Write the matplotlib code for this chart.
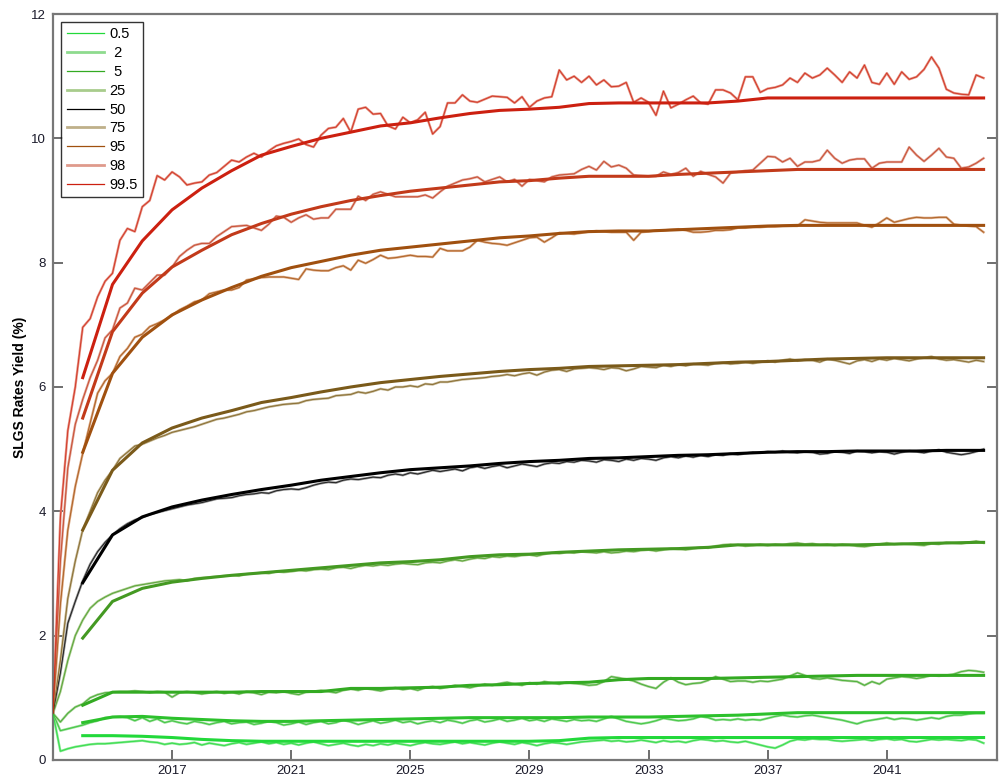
import numpy as np
import matplotlib
matplotlib.use("Agg")
import matplotlib.pyplot as plt
from matplotlib.lines import Line2D

plt.rcParams['font.family'] = ['Liberation Sans', 'DejaVu Sans']

# percentiles shown in the legend
labels = ['0.5', ' 2', ' 5', '25', '50', '75', '95', '98', '99.5']

# quarterly simulated yields, 2013.00 .. 2044.25 (126 points)
q_start = 2013.0
sim_005 = [
    0.75, 0.14, 0.18, 0.21, 0.23, 0.25, 0.26, 0.26,
    0.27, 0.28, 0.29, 0.30, 0.31, 0.29, 0.28, 0.25,
    0.27, 0.25, 0.26, 0.28, 0.24, 0.27, 0.25, 0.23,
    0.26, 0.28, 0.25, 0.27, 0.29, 0.26, 0.28, 0.25,
    0.27, 0.24, 0.27, 0.29, 0.26, 0.23, 0.25, 0.27,
    0.24, 0.22, 0.25, 0.23, 0.26, 0.24, 0.27, 0.25,
    0.23, 0.26, 0.28, 0.26, 0.25, 0.27, 0.29, 0.26,
    0.28, 0.26, 0.24, 0.27, 0.29, 0.27, 0.25, 0.28,
    0.26, 0.23, 0.26, 0.28, 0.27, 0.25, 0.27, 0.29,
    0.30, 0.31, 0.32, 0.30, 0.31, 0.29, 0.30, 0.32,
    0.30, 0.28, 0.31, 0.29, 0.30, 0.28, 0.31, 0.33,
    0.32, 0.30, 0.31, 0.29, 0.28, 0.30, 0.27, 0.24,
    0.21, 0.19, 0.24, 0.30, 0.33, 0.32, 0.34, 0.33,
    0.33, 0.31, 0.30, 0.31, 0.32, 0.33, 0.31, 0.33,
    0.34, 0.32, 0.33, 0.30, 0.29, 0.31, 0.33, 0.32,
    0.33, 0.32, 0.31, 0.33, 0.32, 0.27]
sim_2 = [
    0.75, 0.47, 0.50, 0.53, 0.56, 0.60, 0.63, 0.68,
    0.69, 0.70, 0.68, 0.63, 0.68, 0.62, 0.66, 0.60,
    0.63, 0.60, 0.58, 0.62, 0.60, 0.57, 0.60, 0.62,
    0.58, 0.60, 0.61, 0.57, 0.59, 0.62, 0.60, 0.56,
    0.58, 0.61, 0.57, 0.60, 0.62, 0.58, 0.60, 0.64,
    0.61, 0.57, 0.60, 0.63, 0.59, 0.61, 0.64, 0.60,
    0.62, 0.58, 0.61, 0.63, 0.60, 0.64, 0.62, 0.59,
    0.63, 0.65, 0.61, 0.63, 0.66, 0.62, 0.64, 0.67,
    0.63, 0.65, 0.62, 0.66, 0.64, 0.62, 0.65, 0.63,
    0.64, 0.62, 0.66, 0.70, 0.66, 0.62, 0.60, 0.58,
    0.60, 0.63, 0.67, 0.65, 0.63, 0.64, 0.66, 0.70,
    0.68, 0.64, 0.65, 0.64, 0.66, 0.64, 0.65, 0.64,
    0.67, 0.70, 0.72, 0.70, 0.69, 0.71, 0.72, 0.70,
    0.68, 0.66, 0.64, 0.61, 0.58, 0.62, 0.64, 0.66,
    0.68, 0.65, 0.67, 0.66, 0.64, 0.66, 0.68, 0.66,
    0.70, 0.72, 0.72, 0.74, 0.75, 0.75]
sim_5 = [
    0.75, 0.61, 0.75, 0.85, 0.90, 1.00, 1.05, 1.08,
    1.09, 1.10, 1.10, 1.11, 1.10, 1.08, 1.10, 1.09,
    1.01, 1.08, 1.10, 1.08, 1.06, 1.08, 1.10, 1.07,
    1.09, 1.06, 1.10, 1.08, 1.05, 1.09, 1.08, 1.10,
    1.07, 1.05, 1.09, 1.10, 1.12, 1.10, 1.08, 1.12,
    1.14, 1.12, 1.15, 1.13, 1.11, 1.14, 1.16, 1.13,
    1.15, 1.12, 1.16, 1.18, 1.15, 1.17, 1.20, 1.18,
    1.16, 1.19, 1.22, 1.20, 1.23, 1.25, 1.22, 1.20,
    1.24, 1.22, 1.26, 1.24, 1.22, 1.25, 1.23, 1.22,
    1.20, 1.21, 1.26, 1.34, 1.32, 1.30, 1.27, 1.22,
    1.18, 1.15, 1.25, 1.32, 1.25, 1.21, 1.23, 1.24,
    1.28, 1.34, 1.30, 1.26, 1.27, 1.27, 1.25, 1.27,
    1.26, 1.28, 1.30, 1.35, 1.40, 1.36, 1.31, 1.30,
    1.32, 1.30, 1.28, 1.27, 1.26, 1.20, 1.26, 1.22,
    1.30, 1.32, 1.34, 1.33, 1.31, 1.33, 1.36, 1.35,
    1.36, 1.38, 1.42, 1.44, 1.43, 1.41]
sim_25 = [
    0.75, 1.10, 1.60, 2.00, 2.25, 2.44, 2.55, 2.62,
    2.68, 2.72, 2.76, 2.80, 2.82, 2.84, 2.86, 2.88,
    2.89, 2.90, 2.88, 2.92, 2.93, 2.94, 2.95, 2.96,
    2.97, 2.96, 2.99, 3.00, 3.01, 3.00, 3.03, 3.02,
    3.03, 3.05, 3.04, 3.06, 3.07, 3.06, 3.09, 3.10,
    3.08, 3.11, 3.13, 3.12, 3.14, 3.13, 3.15, 3.16,
    3.15, 3.14, 3.17, 3.18, 3.17, 3.20, 3.22, 3.20,
    3.23, 3.25, 3.24, 3.27, 3.26, 3.28, 3.27, 3.29,
    3.30, 3.28, 3.31, 3.33, 3.32, 3.34, 3.33, 3.35,
    3.34, 3.33, 3.35, 3.33, 3.34, 3.36, 3.35, 3.37,
    3.38, 3.36, 3.38, 3.40, 3.39, 3.38, 3.40, 3.42,
    3.41, 3.44, 3.46, 3.47, 3.46, 3.44, 3.45, 3.47,
    3.45, 3.47, 3.46, 3.48, 3.49, 3.47, 3.48, 3.46,
    3.47, 3.45, 3.47, 3.46, 3.44, 3.43, 3.45, 3.47,
    3.49, 3.47, 3.48, 3.47, 3.46, 3.45, 3.48, 3.47,
    3.50, 3.49, 3.48, 3.50, 3.52, 3.49]
sim_50 = [
    0.75, 1.40, 2.20, 2.55, 2.88, 3.15, 3.35, 3.50,
    3.62, 3.72, 3.80, 3.86, 3.90, 3.95, 3.98, 4.01,
    4.04, 4.07, 4.10, 4.12, 4.14, 4.17, 4.20, 4.21,
    4.22, 4.25, 4.27, 4.28, 4.30, 4.29, 4.33, 4.35,
    4.36, 4.35, 4.38, 4.42, 4.45, 4.47, 4.46, 4.50,
    4.52, 4.51, 4.53, 4.55, 4.54, 4.58, 4.60, 4.58,
    4.62, 4.60, 4.63, 4.66, 4.64, 4.66, 4.68, 4.65,
    4.70, 4.72, 4.69, 4.72, 4.74, 4.70, 4.73, 4.76,
    4.74, 4.72, 4.76, 4.78, 4.77, 4.80, 4.79, 4.82,
    4.81, 4.79, 4.83, 4.82, 4.80, 4.84, 4.82, 4.85,
    4.84, 4.82, 4.86, 4.88, 4.86, 4.89, 4.87, 4.90,
    4.88, 4.91, 4.90, 4.93, 4.91, 4.93, 4.95, 4.94,
    4.96, 4.95, 4.97, 4.95, 4.94, 4.96, 4.95, 4.92,
    4.93, 4.96, 4.95, 4.93, 4.97, 4.96, 4.94, 4.96,
    4.95, 4.92, 4.95, 4.97, 4.96, 4.94, 4.97, 4.99,
    4.95, 4.93, 4.91, 4.93, 4.96, 5.00]
sim_75 = [
    0.75, 1.60, 2.60, 3.20, 3.70, 4.00, 4.30, 4.50,
    4.66, 4.85, 4.95, 5.05, 5.08, 5.13, 5.18, 5.22,
    5.27, 5.30, 5.33, 5.36, 5.40, 5.44, 5.48, 5.50,
    5.53, 5.56, 5.60, 5.62, 5.65, 5.68, 5.70, 5.72,
    5.73, 5.74, 5.78, 5.80, 5.81, 5.82, 5.86, 5.87,
    5.88, 5.92, 5.90, 5.93, 5.97, 5.95, 6.00, 6.00,
    6.02, 6.00, 6.05, 6.04, 6.08, 6.08, 6.10, 6.12,
    6.13, 6.14, 6.15, 6.17, 6.18, 6.20, 6.18, 6.21,
    6.23, 6.19, 6.24, 6.27, 6.28, 6.25, 6.29, 6.30,
    6.31, 6.30, 6.28, 6.31, 6.30, 6.26, 6.29, 6.33,
    6.32, 6.31, 6.35, 6.33, 6.36, 6.34, 6.37, 6.36,
    6.35, 6.38, 6.39, 6.37, 6.38, 6.40, 6.38, 6.40,
    6.42, 6.40, 6.43, 6.45, 6.42, 6.44, 6.43, 6.40,
    6.45, 6.43, 6.40, 6.37, 6.42, 6.44, 6.41, 6.45,
    6.43, 6.46, 6.44, 6.42, 6.45, 6.47, 6.49, 6.45,
    6.43, 6.44, 6.42, 6.40, 6.43, 6.41]
sim_95 = [
    0.75, 2.50, 3.70, 4.40, 4.93, 5.42, 5.90, 6.10,
    6.22, 6.49, 6.62, 6.80, 6.85, 6.97, 7.02, 7.08,
    7.15, 7.24, 7.30, 7.37, 7.40, 7.50, 7.53, 7.56,
    7.56, 7.60, 7.72, 7.74, 7.76, 7.77, 7.77, 7.77,
    7.75, 7.73, 7.90, 7.88, 7.87, 7.87, 7.92, 7.95,
    7.88, 8.04, 7.99, 8.05, 8.12, 8.07, 8.08, 8.10,
    8.12, 8.10, 8.10, 8.09, 8.23, 8.19, 8.19, 8.19,
    8.25, 8.36, 8.33, 8.31, 8.30, 8.28, 8.32, 8.36,
    8.40, 8.41, 8.33, 8.40, 8.48, 8.47, 8.46, 8.48,
    8.50, 8.51, 8.50, 8.49, 8.49, 8.49, 8.36, 8.49,
    8.50, 8.52, 8.52, 8.53, 8.54, 8.52, 8.49, 8.49,
    8.50, 8.52, 8.52, 8.53, 8.56, 8.56, 8.57, 8.57,
    8.58, 8.58, 8.59, 8.59, 8.59, 8.69, 8.67, 8.65,
    8.64, 8.64, 8.64, 8.64, 8.64, 8.60, 8.57, 8.64,
    8.72, 8.65, 8.68, 8.71, 8.73, 8.72, 8.72, 8.73,
    8.73, 8.62, 8.60, 8.59, 8.58, 8.49]
sim_98 = [
    0.75, 3.20, 4.70, 5.40, 5.80, 6.15, 6.43, 6.79,
    6.92, 7.27, 7.35, 7.59, 7.56, 7.68, 7.80, 7.80,
    7.93, 8.10, 8.20, 8.28, 8.31, 8.31, 8.42, 8.50,
    8.58, 8.59, 8.60, 8.56, 8.52, 8.62, 8.75, 8.73,
    8.65, 8.72, 8.77, 8.70, 8.72, 8.72, 8.86, 8.86,
    8.86, 9.07, 9.00, 9.10, 9.14, 9.10, 9.06, 9.06,
    9.06, 9.06, 9.09, 9.04, 9.14, 9.23, 9.28, 9.33,
    9.35, 9.38, 9.30, 9.34, 9.38, 9.30, 9.34, 9.23,
    9.34, 9.32, 9.30, 9.38, 9.41, 9.42, 9.43, 9.50,
    9.55, 9.49, 9.63, 9.54, 9.57, 9.52, 9.41, 9.40,
    9.39, 9.39, 9.46, 9.42, 9.45, 9.52, 9.39, 9.47,
    9.42, 9.38, 9.28, 9.44, 9.46, 9.48, 9.49, 9.60,
    9.71, 9.70, 9.62, 9.68, 9.55, 9.62, 9.62, 9.65,
    9.81, 9.68, 9.60, 9.65, 9.67, 9.67, 9.52, 9.60,
    9.62, 9.62, 9.62, 9.86, 9.73, 9.63, 9.73, 9.84,
    9.70, 9.68, 9.52, 9.54, 9.60, 9.68]
sim_995 = [
    0.75, 3.90, 5.30, 6.00, 6.96, 7.10, 7.45, 7.70,
    7.83, 8.36, 8.55, 8.50, 8.90, 9.00, 9.40, 9.33,
    9.46, 9.38, 9.25, 9.28, 9.30, 9.41, 9.45, 9.55,
    9.65, 9.62, 9.70, 9.76, 9.70, 9.80, 9.88, 9.92,
    9.95, 9.99, 9.90, 9.86, 10.05, 10.16, 10.18, 10.32,
    10.10, 10.47, 10.50, 10.39, 10.40, 10.20, 10.15, 10.34,
    10.25, 10.30, 10.42, 10.07, 10.19, 10.57, 10.57, 10.70,
    10.60, 10.58, 10.63, 10.68, 10.67, 10.66, 10.57, 10.67,
    10.50, 10.60, 10.65, 10.67, 11.10, 10.94, 11.00, 10.90,
    11.00, 10.86, 10.94, 10.83, 10.84, 10.90, 10.58, 10.65,
    10.58, 10.37, 10.76, 10.49, 10.55, 10.62, 10.68, 10.57,
    10.55, 10.78, 10.78, 10.73, 10.62, 10.99, 10.99, 10.74,
    10.80, 10.82, 10.86, 10.97, 10.90, 11.05, 10.97, 11.02,
    11.13, 11.02, 10.90, 11.07, 10.97, 11.18, 10.90, 10.87,
    11.05, 10.87, 11.07, 10.95, 10.99, 11.11, 11.31, 11.13,
    10.79, 10.73, 10.71, 10.70, 11.02, 10.97]

# yearly target curves, 2014 .. 2044, held to the last quarter
fit_years = list(range(2014, 2045)) + [2044.25]
fit_005 = [0.39, 0.39, 0.38, 0.36, 0.33, 0.31, 0.30, 0.30, 0.30, 0.30, 0.30,
           0.30, 0.30, 0.30, 0.30, 0.30, 0.31, 0.35, 0.36, 0.36, 0.36, 0.36,
           0.36, 0.36, 0.36, 0.36, 0.36, 0.36, 0.36, 0.36, 0.36, 0.36]
fit_2 = [0.60, 0.69, 0.70, 0.67, 0.65, 0.63, 0.62, 0.62, 0.63, 0.64, 0.65,
         0.66, 0.67, 0.68, 0.68, 0.68, 0.68, 0.69, 0.69, 0.69, 0.70, 0.71,
         0.72, 0.74, 0.76, 0.76, 0.76, 0.76, 0.76, 0.76, 0.76, 0.76]
fit_5 = [0.88, 1.09, 1.09, 1.09, 1.09, 1.09, 1.10, 1.10, 1.10, 1.15, 1.15,
         1.16, 1.17, 1.20, 1.21, 1.23, 1.24, 1.25, 1.29, 1.31, 1.31, 1.31,
         1.32, 1.33, 1.34, 1.35, 1.36, 1.36, 1.36, 1.36, 1.36, 1.36]
fit_25 = [1.96, 2.55, 2.76, 2.86, 2.92, 2.97, 3.01, 3.05, 3.09, 3.13, 3.17,
          3.19, 3.22, 3.27, 3.30, 3.31, 3.34, 3.36, 3.38, 3.39, 3.40, 3.42,
          3.46, 3.46, 3.46, 3.46, 3.46, 3.47, 3.48, 3.49, 3.50, 3.50]
fit_50 = [2.85, 3.62, 3.91, 4.07, 4.18, 4.27, 4.35, 4.42, 4.50, 4.56, 4.62,
          4.67, 4.70, 4.73, 4.77, 4.80, 4.82, 4.85, 4.86, 4.88, 4.90, 4.91,
          4.93, 4.95, 4.96, 4.96, 4.97, 4.97, 4.97, 4.98, 4.98, 4.98]
fit_75 = [3.70, 4.66, 5.10, 5.34, 5.50, 5.62, 5.75, 5.83, 5.92, 6.00, 6.07,
          6.12, 6.17, 6.21, 6.25, 6.28, 6.30, 6.33, 6.34, 6.35, 6.36, 6.38,
          6.40, 6.41, 6.43, 6.45, 6.46, 6.47, 6.47, 6.47, 6.47, 6.47]
fit_95 = [4.95, 6.22, 6.80, 7.16, 7.40, 7.60, 7.78, 7.92, 8.02, 8.12, 8.20,
          8.25, 8.30, 8.35, 8.40, 8.43, 8.47, 8.50, 8.51, 8.51, 8.53, 8.55,
          8.57, 8.59, 8.60, 8.60, 8.60, 8.60, 8.60, 8.60, 8.60, 8.60]
fit_98 = [5.50, 6.89, 7.51, 7.93, 8.20, 8.45, 8.63, 8.78, 8.90, 9.00, 9.08,
          9.15, 9.20, 9.25, 9.30, 9.32, 9.36, 9.39, 9.39, 9.39, 9.42, 9.44,
          9.46, 9.48, 9.50, 9.50, 9.50, 9.50, 9.50, 9.50, 9.50, 9.50]
fit_995 = [6.15, 7.65, 8.35, 8.85, 9.20, 9.48, 9.73, 9.87, 10.00, 10.10, 10.20,
           10.25, 10.33, 10.40, 10.45, 10.47, 10.50, 10.56, 10.57, 10.57, 10.57, 10.57,
           10.60, 10.65, 10.65, 10.65, 10.65, 10.65, 10.65, 10.65, 10.65, 10.65]

sims = [sim_005, sim_2, sim_5, sim_25, sim_50, sim_75, sim_95, sim_98, sim_995]
fits = [fit_005, fit_2, fit_5, fit_25, fit_50, fit_75, fit_95, fit_98, fit_995]

dark = ['#22d93a', '#2cc12c', '#33aa22', '#449922', '#000000',
        '#7a5a1a', '#a0500f', '#c23a1a', '#cc2010']
light = ['#7fe88a', '#8edb8e', '#9dcc8a', '#a8cc8c', '#8a8a8a',
         '#bfb08a', '#d9a27a', '#df9a8c', '#e58c7c']

fig = plt.figure(figsize=(9.99, 7.81), dpi=100)
ax = fig.add_axes([0.053, 0.027, 0.945, 0.955])

for sim, fit, dc, lc in zip(sims, fits, dark, light):
    qx = q_start + 0.25 * np.arange(len(sim))
    ax.plot(qx, sim, color=lc, lw=1.7, zorder=2)
    ax.plot(qx, sim, color=dc, lw=0.55, alpha=0.9, zorder=3)
    ax.plot(fit_years, fit, color=dc, lw=2.2, zorder=4)

ax.set_xlim(2013.0, 2044.7)
ax.set_ylim(0, 12)
ax.set_xticks([2017, 2021, 2025, 2029, 2033, 2037, 2041])
ax.set_yticks([0, 2, 4, 6, 8, 10, 12])
ax.tick_params(axis='both', direction='in', length=7, width=1.2, color='#555555',
               labelsize=9.5, labelcolor='#1a1a2a')
ax.tick_params(axis='y', right=True, pad=5)
ax.tick_params(axis='x', pad=4)
for s in ax.spines.values():
    s.set_color('#777777')
    s.set_linewidth(1.6)

ax.set_ylabel('SLGS Rates Yield (%)', fontsize=10, fontweight='bold', labelpad=3)

handles = []
for i, lab in enumerate(labels):
    if i % 2 == 0:
        handles.append(Line2D([], [], color=dark[i], lw=0.9))
    else:
        handles.append(Line2D([], [], color=light[i], lw=2.0))
leg = ax.legend(handles, labels, loc='upper left', bbox_to_anchor=(0.009, 0.989),
                fontsize=10.5, frameon=True, fancybox=False, handlelength=2.6,
                handletextpad=0.35, labelspacing=0.33, borderpad=0.35,
                borderaxespad=0)
leg.get_frame().set_edgecolor('#000000')
leg.get_frame().set_linewidth(1.0)

fig.savefig('out.png', dpi=100)
